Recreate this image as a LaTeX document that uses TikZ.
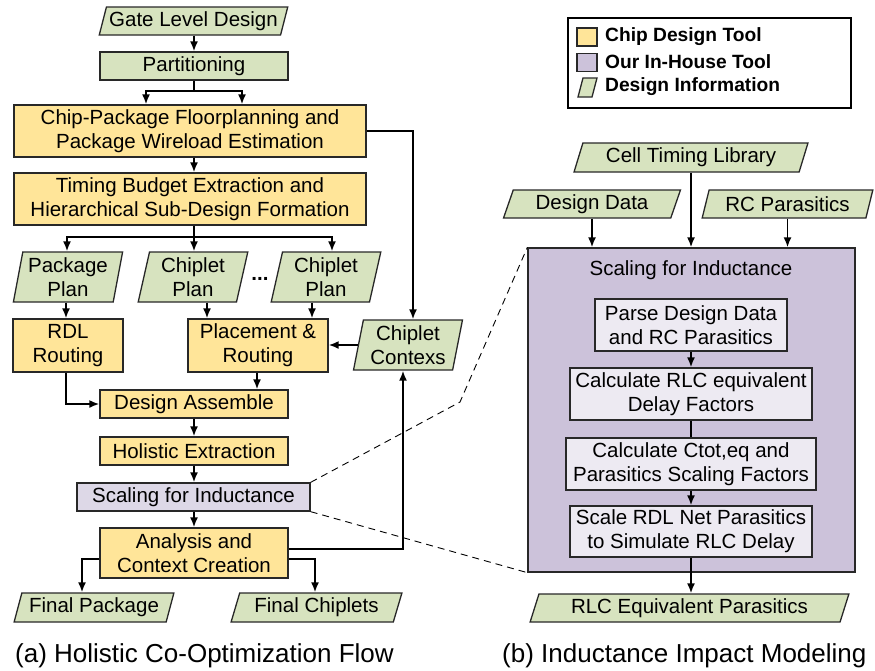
\documentclass[tikz,border=0pt]{standalone}
\usepackage{fontspec}
\setmainfont{Liberation Sans}
\usetikzlibrary{shapes.geometric,arrows.meta}
\definecolor{cgreen}{RGB}{215,227,191}
\definecolor{cyellow}{RGB}{255,229,153}
\definecolor{cpurple}{RGB}{204,194,218}
\definecolor{cpurplelt}{RGB}{221,216,231}
\definecolor{cinner}{RGB}{237,234,242}
\definecolor{cborder}{RGB}{40,40,40}
\begin{document}
\begin{tikzpicture}[x=1pt,y=-1pt,
  font=\fontsize{20.5}{24}\selectfont,
  sz/.style 2 args={minimum width=#1pt, minimum height=#2pt},
  box/.style={draw=cborder, line width=1.3pt, rectangle, inner sep=0pt, align=center},
  tool/.style={box, fill=cyellow},
  ours/.style={box, fill=cpurplelt},
  innerbox/.style={box, fill=cinner},
  info/.style={trapezium, trapezium left angle=70, trapezium right angle=110,
    trapezium stretches=true, draw=cborder, line width=1.3pt, fill=cgreen,
    inner sep=0pt, align=center},
  infotwo/.style={info, trapezium left angle=78, trapezium right angle=102},
  arr/.style={-{Latex[length=10pt,width=8pt]}, line width=1.8pt},
  ln/.style={line width=1.8pt},
  dashline/.style={line width=0.9pt, dash pattern=on 7pt off 5pt},
  legtext/.style={anchor=west, inner sep=0pt, font=\bfseries\fontsize{19.2}{22}\selectfont},
  captext/.style={anchor=base west, inner sep=0pt, font=\fontsize{26}{30}\selectfont},
]
\useasboundingbox (0,0) rectangle (875,670);

% column helpers
\coordinate (c66) at (66,0);
\coordinate (c67) at (67,0);
\coordinate (c82) at (82,0);
\coordinate (c146) at (146,0);
\coordinate (c207) at (207,0);
\coordinate (c242) at (242,0);
\coordinate (c257) at (257,0);
\coordinate (c312) at (312,0);
\coordinate (c315) at (315,0);
\coordinate (c332) at (332,0);
\coordinate (c403) at (403,0);
\coordinate (c413) at (413,0);
\coordinate (kink) at (460,402);

% ---------- (a) flow ----------
\node[info, sz={189}{28}] (gate) at (193.5,21) {Gate Level Design};
\node[box, fill=cgreen, sz={188}{28}] (part) at (194,66) {Partitioning};
\node[tool, sz={352}{52}] (cpf) at (190,131) {Chip-Package Floorplanning and\\Package Wireload Estimation};
\node[tool, sz={352}{52}] (tbe) at (190,199) {Timing Budget Extraction and\\Hierarchical Sub-Design Formation};
\node[infotwo, sz={110}{50}] (pplan) at (68,277) {Package\\Plan};
\node[infotwo, sz={110}{50}] (cplan1) at (193,277) {Chiplet\\Plan};
\node[infotwo, sz={110}{50}] (cplan2) at (326,277) {Chiplet\\Plan};
\node[anchor=base, inner sep=0pt] (dots) at (260,280) {\textbf{...}};
\node[tool, sz={110}{53}] (rdl) at (68,345.5) {RDL\\Routing};
\node[tool, sz={140}{53}] (pr) at (258,345.5) {Placement \&\\Routing};
\node[infotwo, sz={110}{50}] (ctx) at (408,345) {Chiplet\\Contexs};
\node[tool, sz={188}{28}] (da) at (194,404) {Design Assemble};
\node[tool, sz={188}{28}] (he) at (194,451) {Holistic Extraction};
\node[ours, sz={233}{28}] (sfi) at (193.5,497) {Scaling for Inductance};
\node[tool, sz={188}{50}] (acc) at (194,553) {Analysis and\\Context Creation};
\node[info, sz={160}{29}] (fpkg) at (94,607.5) {Final Package};
\node[info, sz={171}{29}] (fchip) at (316.5,607.5) {Final Chiplets};
\node[captext] (capa) at (15,662) {(a) Holistic Co-Optimization Flow};

\draw[arr] (gate.south -| part) -- (part.north);
\draw[ln] (part.south) -- ++(0,10) coordinate (p1);
\draw[arr] (p1) -| (c146 |- cpf.north);
\draw[arr] (p1) -| (c242 |- cpf.north);
\draw[arr] (cpf.east) -| (ctx.north -| c413);
\draw[arr] (cpf.south -| part) -- (tbe.north -| part);
\draw[ln] (tbe.south -| part) -- ++(0,11) coordinate (t1);
\draw[arr] (t1) -| (pplan.north -| c67);
\draw[arr] (t1) -- (cplan1.north -| t1);
\draw[arr] (t1) -| (cplan2.north -| c332);
\draw[arr] (pplan.south -| c66) -- (rdl.north -| c66);
\draw[arr] (cplan1.south -| c207) -- (pr.north -| c207);
\draw[arr] (cplan2.south -| c312) -- (pr.north -| c312);
\draw[arr] (ctx.west) -- (pr.east |- ctx.west);
\draw[arr] (pr.south -| c257) -- (da.north -| c257);
\draw[arr] (rdl.south -| c66) |- (da.west);
\draw[arr] (da) -- (he);
\draw[arr] (he.south) -- (sfi.north -| he.south);
\draw[arr] (sfi.south -| he) -- (acc.north);
\draw[arr] ([yshift=4pt]acc.east) -| (ctx.south -| c403);
\draw[arr] ([yshift=-6pt]acc.west) -| (fpkg.north -| c82);
\draw[arr] ([yshift=-6pt]acc.east) -| (fchip.north -| c315);

% ---------- legend ----------
\node[draw=black, line width=1.3pt, sz={283}{90}] (leg) at (709.5,63) {};
\node[box, fill=cyellow, sz={20}{18}] (lg1) at (587,37) {};
\node[box, fill=cpurple, sz={20}{18}] (lg2) at (587,62.5) {};
\draw[draw=cborder, line width=1.3pt, fill=cgreen] (578,97) -- (583,78) -- (597,78) -- (592,97) -- cycle;
\node[legtext] (lt1) at (605,37) {Chip Design Tool};
\node[legtext] (lt2) at (605,62) {Our In-House Tool};
\node[legtext] (lt3) at (605,87) {Design Information};

% ---------- (b) model ----------
\node[info, sz={234}{29}] (ctl) at (691,157.5) {Cell Timing Library};
\node[info, sz={177}{28}] (dd) at (592,204) {Design Data};
\node[info, sz={171}{28}] (rcp) at (787.5,204) {RC Parasitics};
\node[box, fill=cpurple, sz={327}{324}] (big) at (691.5,410) {};
\node[inner sep=0pt] (bigt) at (691,270) {Scaling for Inductance};
\node[innerbox, sz={192}{52}] (parse) at (691,325) {Parse Design Data\\and RC Parasitics};
\node[innerbox, sz={242}{52}] (crlc) at (691,394) {Calculate RLC equivalent\\Delay Factors};
\node[innerbox, sz={250}{52}] (ctot) at (691,464) {Calculate Ctot,eq and\\Parasitics Scaling Factors};
\node[innerbox, sz={242}{51}] (srdl) at (691,531.5) {Scale RDL Net Parasitics\\to Simulate RLC Delay};
\node[info, sz={319}{28}] (rlceq) at (689.5,608) {RLC Equivalent Parasitics};
\node[captext] (capb) at (502,662) {(b) Inductance Impact Modeling};

\draw[arr] (dd.south) -- (big.north -| dd.south);
\draw[arr] (ctl.south) -- (big.north -| ctl.south);
\draw[arr] (rcp.south) -- (big.north -| rcp.south);
\draw[arr] (parse) -- (crlc);
\draw[ln] (crlc) -- (ctot);
\draw[arr] (ctot) -- (srdl);
\draw[arr] (srdl.south) -- (rlceq.north -| srdl.south);

\draw[dashline] (sfi.north east) -- (kink) -- (big.north west);
\draw[dashline] (sfi.south east) -- (big.south west);
\end{tikzpicture}
\end{document}
